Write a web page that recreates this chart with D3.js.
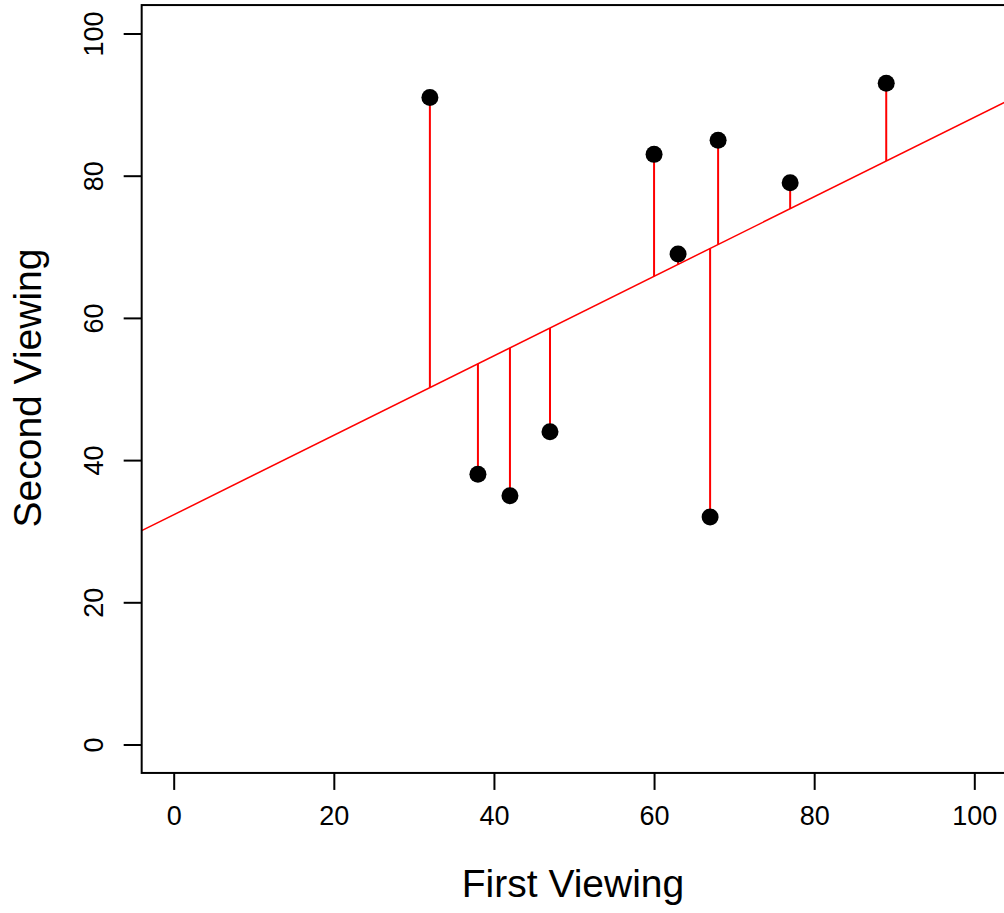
<!DOCTYPE html>
<html><head><meta charset="utf-8">
<script src="https://cdn.jsdelivr.net/npm/d3@7"></script>
<style>html,body{margin:0;padding:0;background:#fff;}svg{display:block;}</style>
</head><body>
<script>
const firstViewing  = [32, 38, 42, 47, 60, 63, 67, 68, 77, 89];
const secondViewing = [91, 38, 35, 44, 83, 69, 32, 85, 79, 93];
const xTicks = [0, 20, 40, 60, 80, 100];
const yTicks = [0, 20, 40, 60, 80, 100];
const xTitle = "First Viewing";
const yTitle = "Second Viewing";

const W = 1004, H = 913;
const font = "'Liberation Sans', Arial, sans-serif";
const svg = d3.select("body").append("svg").attr("width", W).attr("height", H);

const x = d3.scaleLinear().domain([0, 100]).range([173.7, 974.3]);
const y = d3.scaleLinear().domain([0, 100]).range([744.5, 33.5]);
const [xl, xr] = [x(-4), x(104)];
const [yb, yt] = [y(-4), y(104)];

// least squares fit
const mx = d3.mean(firstViewing), my = d3.mean(secondViewing);
let sxy = 0, sxx = 0;
firstViewing.forEach((v, i) => { sxy += (v - mx) * (secondViewing[i] - my); sxx += (v - mx) ** 2; });
const slope = sxy / sxx, intercept = my - slope * mx;
const fit = v => intercept + slope * v;

svg.append("defs").append("clipPath").attr("id", "clip")
  .append("rect").attr("x", xl).attr("y", yt).attr("width", xr - xl).attr("height", yb - yt);

const plot = svg.append("g").attr("clip-path", "url(#clip)");

plot.append("line")
  .attr("x1", x(-4)).attr("y1", y(fit(-4)))
  .attr("x2", x(104)).attr("y2", y(fit(104)))
  .attr("stroke", "#ff0000").attr("stroke-width", 1.5);

plot.selectAll("line.res").data(firstViewing).enter().append("line").attr("class", "res")
  .attr("x1", d => x(d)).attr("x2", d => x(d))
  .attr("y1", (d, i) => y(secondViewing[i])).attr("y2", d => y(fit(d)))
  .attr("stroke", "#ff0000").attr("stroke-width", 2);

plot.selectAll("circle").data(firstViewing).enter().append("circle")
  .attr("cx", d => x(d)).attr("cy", (d, i) => y(secondViewing[i]))
  .attr("r", 8.5).attr("fill", "#000");

// box
svg.append("rect").attr("x", xl).attr("y", yt).attr("width", xr - xl).attr("height", yb - yt)
  .attr("fill", "none").attr("stroke", "#000").attr("stroke-width", 2);

// x axis
const gx = svg.append("g").attr("transform", `translate(0,${yb})`)
  .call(d3.axisBottom(x).tickValues(xTicks).tickSize(17).tickPadding(16).tickSizeOuter(0));
gx.select(".domain").remove();
gx.selectAll(".tick line").attr("stroke-width", 2);
gx.selectAll("text").attr("font-family", font).attr("font-size", 27).attr("fill", "#000");

// y axis
const gy = svg.append("g").attr("transform", `translate(${xl},0)`)
  .call(d3.axisLeft(y).tickValues(yTicks).tickSize(18).tickPadding(0).tickSizeOuter(0));
gy.select(".domain").remove();
gy.selectAll(".tick line").attr("stroke-width", 2);
gy.selectAll("text").attr("font-family", font).attr("font-size", 27).attr("fill", "#000")
  .attr("text-anchor", "middle").attr("dy", null).attr("x", null)
  .attr("transform", "translate(-48,0) rotate(-90)").attr("dy", "0.36em");

// titles
svg.append("text").attr("x", 573).attr("y", 897)
  .attr("text-anchor", "middle").attr("font-family", font).attr("font-size", 39)
  .text(xTitle);
svg.append("text").attr("transform", `translate(41,388) rotate(-90)`)
  .attr("text-anchor", "middle").attr("font-family", font).attr("font-size", 39)
  .text(yTitle);
</script>
</body></html>
